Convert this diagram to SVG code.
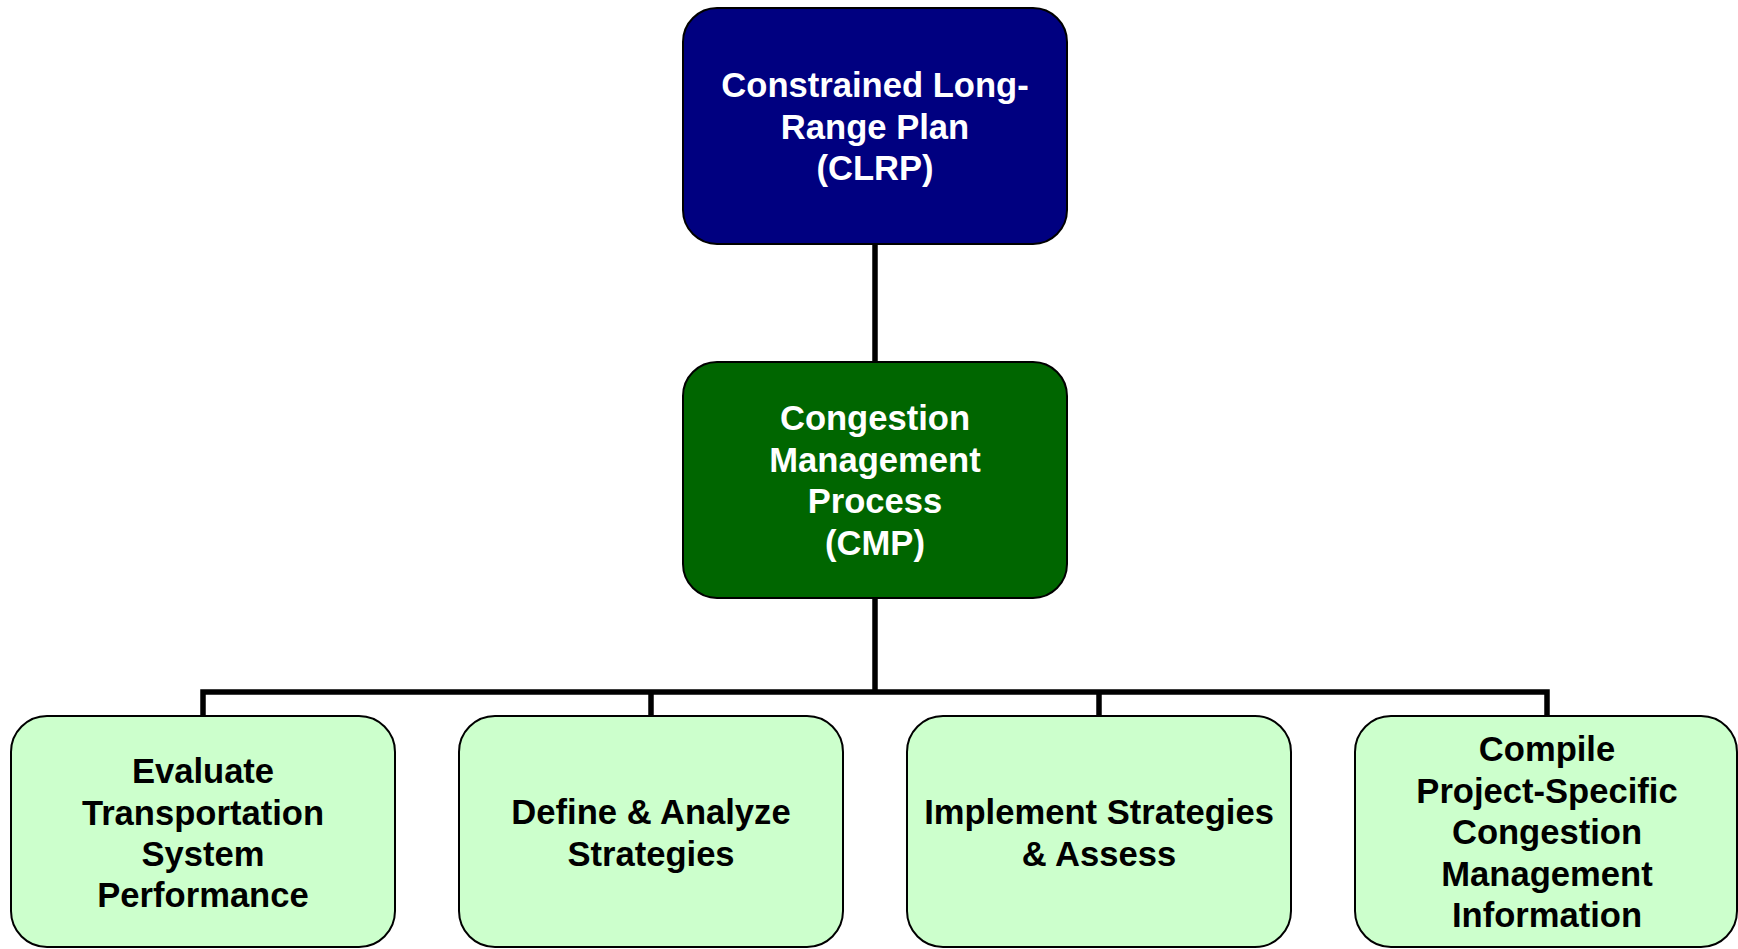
<svg xmlns="http://www.w3.org/2000/svg" width="1738" height="949" viewBox="0 0 1738 949">
<style>
.box{stroke:#000;stroke-width:2}
.top{fill:#000080}
.mid{fill:#006600}
.leaf{fill:#CCFFCC}
text{font-family:"Liberation Sans",Arial,sans-serif;font-weight:bold;font-size:34.6px;text-anchor:middle}
.w{fill:#fff}
.k{fill:#000}
.conn{fill:none;stroke:#000;stroke-width:5.5;stroke-linejoin:miter}
</style>
<rect width="1738" height="949" fill="#fff"/>
<g id="connectors">
<path class="conn" d="M875 244 V362"/>
<path class="conn" d="M875 598 V692"/>
<path class="conn" d="M203 716 V692 H1547 V716"/>
<path class="conn" d="M651 692 V716"/>
<path class="conn" d="M1099 692 V716"/>
</g>
<g id="clrp">
<rect class="box top" x="683" y="8" width="384" height="236" rx="34" ry="34"/>
<text class="w" x="875" y="97">Constrained Long-</text>
<text class="w" x="875" y="138.5">Range Plan</text>
<text class="w" x="875" y="180">(CLRP)</text>
</g>
<g id="cmp">
<rect class="box mid" x="683" y="362" width="384" height="236" rx="34" ry="34"/>
<text class="w" x="875" y="430">Congestion</text>
<text class="w" x="875" y="471.5">Management</text>
<text class="w" x="875" y="513">Process</text>
<text class="w" x="875" y="554.5">(CMP)</text>
</g>
<g id="evaluate">
<rect class="box leaf" x="11" y="716" width="384" height="231" rx="36" ry="36"/>
<text class="k" x="203" y="783">Evaluate</text>
<text class="k" x="203" y="824.5">Transportation</text>
<text class="k" x="203" y="866">System</text>
<text class="k" x="203" y="907">Performance</text>
</g>
<g id="define">
<rect class="box leaf" x="459" y="716" width="384" height="231" rx="36" ry="36"/>
<text class="k" x="651" y="824">Define &amp; Analyze</text>
<text class="k" x="651" y="865.5">Strategies</text>
</g>
<g id="implement">
<rect class="box leaf" x="907" y="716" width="384" height="231" rx="36" ry="36"/>
<text class="k" x="1099" y="824">Implement Strategies</text>
<text class="k" x="1099" y="865.5">&amp; Assess</text>
</g>
<g id="compile">
<rect class="box leaf" x="1355" y="716" width="382" height="231" rx="36" ry="36"/>
<text class="k" x="1547" y="761">Compile</text>
<text class="k" x="1547" y="802.5">Project-Specific</text>
<text class="k" x="1547" y="844">Congestion</text>
<text class="k" x="1547" y="885.5">Management</text>
<text class="k" x="1547" y="927">Information</text>
</g>
</svg>
